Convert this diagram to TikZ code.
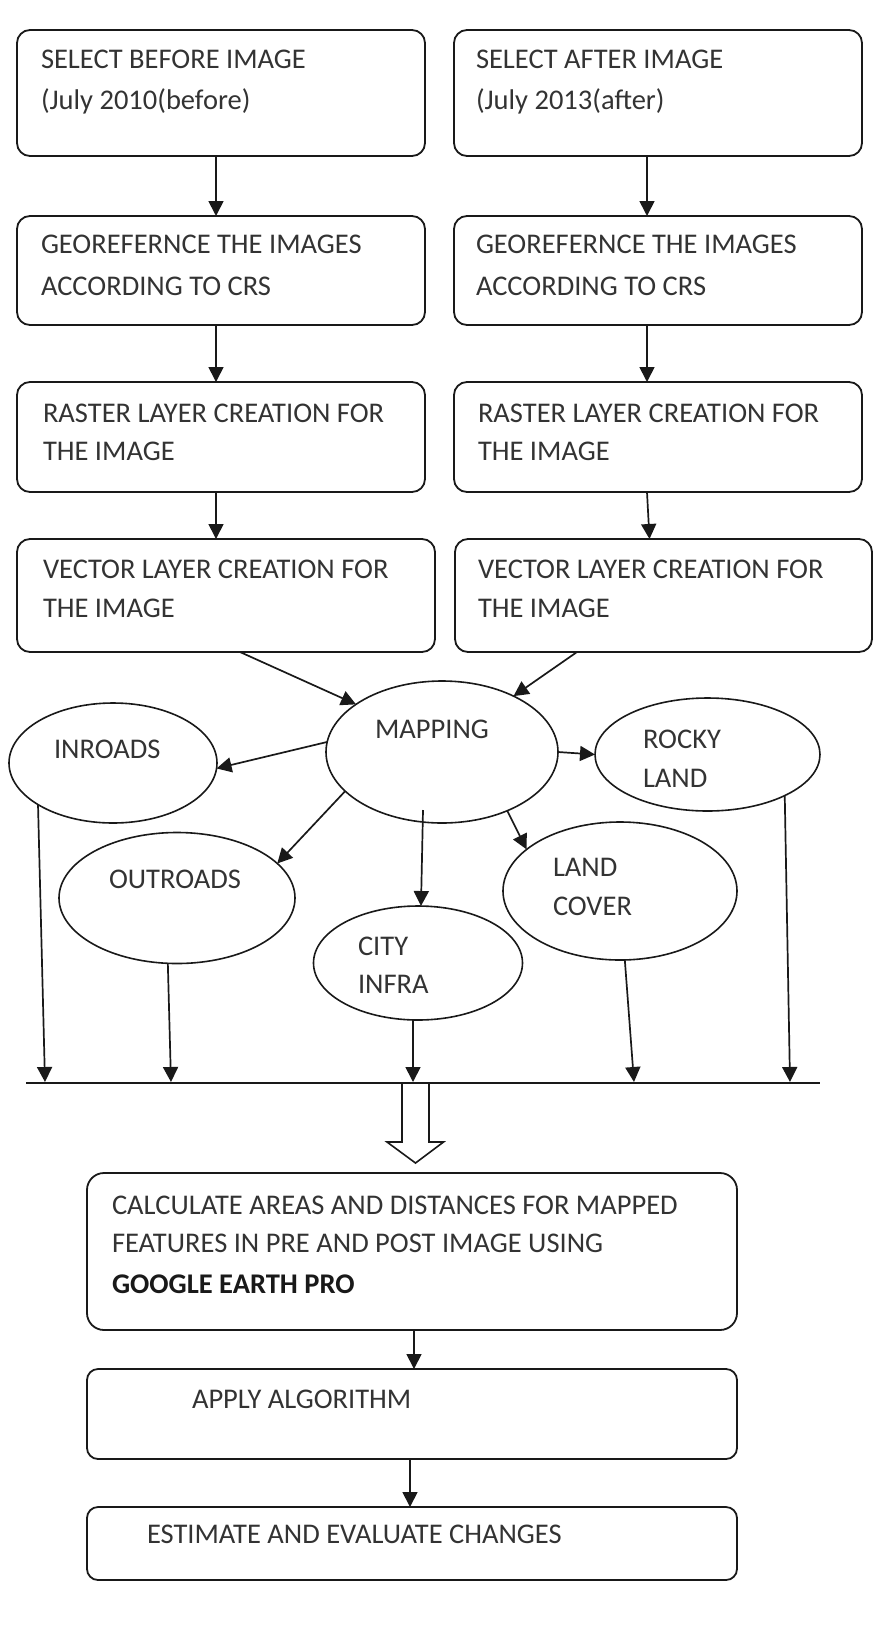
\documentclass[tikz,border=0pt]{standalone}
\usepackage{fontspec}
\setmainfont{Carlito}
\usetikzlibrary{arrows.meta,shapes.geometric,calc}
\begin{document}
\begin{tikzpicture}[x=1pt,y=-1pt,
  stepbox/.style={draw=black!90, line width=1.8pt, rounded corners=13pt, inner sep=0pt, outer sep=0pt},
  ovalbox/.style={draw=black!90, ellipse, line width=1.6pt, inner sep=0pt, outer sep=0pt},
  txt/.style={anchor=base west, inner sep=0pt, outer sep=0pt, font=\fontsize{28.5}{34}\selectfont, text=black!80},
  arr/.style={-{Triangle[length=15pt,width=15pt]}, line width=1.7pt, draw=black!90},
  plainline/.style={line width=1.8pt, draw=black!90}]
\useasboundingbox (0,0) rectangle (880,1636);

% top boxes
\node[stepbox, minimum width=408pt, minimum height=126pt] (L1) at (221,93) {};
\node[stepbox, minimum width=408pt, minimum height=109pt] (L2) at (221,270.5) {};
\node[stepbox, minimum width=408pt, minimum height=110pt] (L3) at (221,437) {};
\node[stepbox, minimum width=418pt, minimum height=113pt] (L4) at (226,595.5) {};
\node[stepbox, minimum width=408pt, minimum height=126pt] (R1) at (658,93) {};
\node[stepbox, minimum width=408pt, minimum height=109pt] (R2) at (658,270.5) {};
\node[stepbox, minimum width=408pt, minimum height=110pt] (R3) at (658,437) {};
\node[stepbox, minimum width=417pt, minimum height=113pt] (R4) at (663.5,595.5) {};

\node[txt] (tL1a) at (41,68) {SELECT BEFORE IMAGE};
\node[txt] (tL1b) at (41,109) {(July 2010(before)};
\node[txt] (tR1a) at (476,68) {SELECT AFTER IMAGE};
\node[txt] (tR1b) at (476,109) {(July 2013(after)};
\node[txt] (tL2a) at (41,253) {GEOREFERNCE THE IMAGES};
\node[txt] (tL2b) at (41,295) {ACCORDING TO CRS};
\node[txt] (tR2a) at (476,253) {GEOREFERNCE THE IMAGES};
\node[txt] (tR2b) at (476,295) {ACCORDING TO CRS};
\node[txt] (tL3a) at (43,422) {RASTER LAYER CREATION FOR};
\node[txt] (tL3b) at (43,460) {THE IMAGE};
\node[txt] (tR3a) at (478,422) {RASTER LAYER CREATION FOR};
\node[txt] (tR3b) at (478,460) {THE IMAGE};
\node[txt] (tL4a) at (43,578) {VECTOR LAYER CREATION FOR};
\node[txt] (tL4b) at (43,617) {THE IMAGE};
\node[txt] (tR4a) at (478,578) {VECTOR LAYER CREATION FOR};
\node[txt] (tR4b) at (478,617) {THE IMAGE};

\draw[arr] ([xshift=-5pt]L1.south) -- ([xshift=-5pt]L2.north);
\draw[arr] ([xshift=-5pt]L2.south) -- ([xshift=-5pt]L3.north);
\draw[arr] ([xshift=-5pt]L3.south) -- ([xshift=-10pt]L4.north);
\draw[arr] ([xshift=-11pt]R1.south) -- ([xshift=-11pt]R2.north);
\draw[arr] ([xshift=-11pt]R2.south) -- ([xshift=-11pt]R3.north);
\draw[arr] ([xshift=-11pt]R3.south) -- ([xshift=-14pt]R4.north);

% ellipses
\node[ovalbox, minimum width=208pt, minimum height=120pt] (inroads) at (113,763) {};
\node[ovalbox, minimum width=232pt, minimum height=142pt] (mapping) at (442,752) {};
\node[ovalbox, minimum width=225pt, minimum height=113pt] (rocky) at (707.5,754.5) {};
\node[ovalbox, minimum width=236pt, minimum height=131pt] (outroads) at (177,898) {};
\node[ovalbox, minimum width=209pt, minimum height=114pt] (city) at (418,963) {};
\node[ovalbox, minimum width=234pt, minimum height=138pt] (landcover) at (620,891) {};

\node[txt] (tin) at (54,758) {INROADS};
\node[txt] (tmap) at (375,738) {MAPPING};
\node[txt] (trocka) at (643,748) {ROCKY};
\node[txt] (trockb) at (643,787) {LAND};
\node[txt] (tout) at (109,888) {OUTROADS};
\node[txt] (tcitya) at (358,955) {CITY};
\node[txt] (tcityb) at (358,993) {INFRA};
\node[txt] (tlca) at (553,876) {LAND};
\node[txt] (tlcb) at (553,915) {COVER};

\draw[arr] ([xshift=14pt]L4.south) -- (mapping.151);
\draw[arr] ([xshift=-86.5pt]R4.south) -- (mapping.38);
\draw[arr] (mapping.175) -- (inroads.-3);
\draw[arr] (mapping.202) -- (outroads.19);
\draw[arr] ([shift={(-19,58)}]mapping.center) -- (city.87);
\draw[arr] (mapping.0) -- (rocky.180);
\draw[arr] (mapping.-42) -- (landcover.156);

% collecting line
\coordinate (lineL) at (26,1083);
\coordinate (lineR) at (820,1083);
\draw[plainline] (lineL) -- (lineR);
\coordinate (e1) at (45,1082);
\coordinate (e2) at (171,1082);
\coordinate (e3) at (413,1082);
\coordinate (e4) at (634,1082);
\coordinate (e5) at (790,1082);
\draw[arr] (inroads.209) -- (e1);
\draw[arr] (outroads.262) -- (e2);
\draw[arr] (city.265) -- (e3);
\draw[arr] (landcover.274) -- (e4);
\draw[arr] (rocky.-28.5) -- (e5);

% block arrow
\coordinate (ba) at (415.5,1083);
\draw[line width=1.6pt, draw=black!90, line join=miter, shift={(ba)}]
  (-13.5,0) -- (-13.5,59) -- (-28.5,59) -- (0,80) -- (28,59) -- (13.5,59) -- (13.5,0);

% bottom boxes
\node[stepbox, rounded corners=17pt, minimum width=650pt, minimum height=157pt] (calc) at (412,1251.5) {};
\node[stepbox, rounded corners=11pt, minimum width=650pt, minimum height=90pt] (apply) at (412,1414) {};
\node[stepbox, rounded corners=11pt, minimum width=650pt, minimum height=73pt] (estim) at (412,1543.5) {};

\node[txt] (tca) at (112,1214) {CALCULATE AREAS AND DISTANCES FOR MAPPED};
\node[txt] (tcb) at (112,1252) {FEATURES IN PRE AND POST IMAGE USING};
\node[txt, font=\fontsize{28.5}{34}\selectfont\bfseries, text=black!90] (tcc) at (112,1293) {GOOGLE EARTH PRO};
\node[txt] (tap) at (192,1408) {APPLY ALGORITHM};
\node[txt] (tes) at (147,1543) {ESTIMATE AND EVALUATE CHANGES};

\draw[arr] ([xshift=2pt]calc.south) -- ([xshift=2pt]apply.north);
\draw[arr] ([xshift=-2pt]apply.south) -- ([xshift=-2pt]estim.north);
\end{tikzpicture}
\end{document}
